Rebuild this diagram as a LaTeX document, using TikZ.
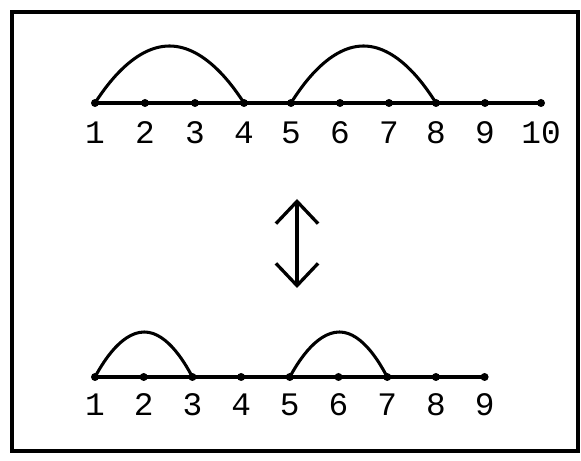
\documentclass[tikz,border=0pt]{standalone}
\usepackage{fontspec}
\setmonofont{Liberation Mono}
\usetikzlibrary{arrows.meta}
\tikzset{
  axis/.style={line width=3pt},
  hop/.style={line width=2.6pt},
  numlabel/.style={font=\ttfamily\fontsize{28}{30}\selectfont, inner sep=0pt}
}
\begin{document}
\begin{tikzpicture}[x=0.03cm,y=-0.03cm]
  \useasboundingbox (0,0) rectangle (581,461);
  \draw[line width=3.6pt] (12,12) rectangle (578,451);
  % upper line, 1 to 10
  \foreach \x [count=\i] in {95,145,195,244,291,340,389,436,485,541} {
    \coordinate (T\i) at (\x,103);
    \node[numlabel] (tl\i) at (\x,133) {\i};
  }
  \draw[axis] (T1) -- (T10);
  \foreach \i in {1,...,10} \fill (T\i) circle (4);
  \draw[hop] (T1) parabola bend (169.5,46) (T4);
  \draw[hop] (T5) parabola bend (363.5,46) (T8);
  % arrow
  \coordinate (up) at (297,199);
  \coordinate (dn) at (297,288);
  \draw[line width=2.8pt, {Straight Barb[length=19pt,width=36pt]}-{Straight Barb[length=19pt,width=36pt]}] (up) -- (dn);
  % lower line, 1 to 9
  \foreach \i in {1,...,9} {
    \coordinate (B\i) at ({95+48.7*(\i-1)},377);
    \node[numlabel] (bl\i) at ({95+48.7*(\i-1)},405) {\i};
  }
  \draw[axis] (B1) -- (B9);
  \foreach \i in {1,...,9} \fill (B\i) circle (4);
  \draw[hop] (B1) parabola bend (144.35,332) (B3);
  \draw[hop] (B5) parabola bend (339.5,332) (B7);
\end{tikzpicture}
\end{document}
